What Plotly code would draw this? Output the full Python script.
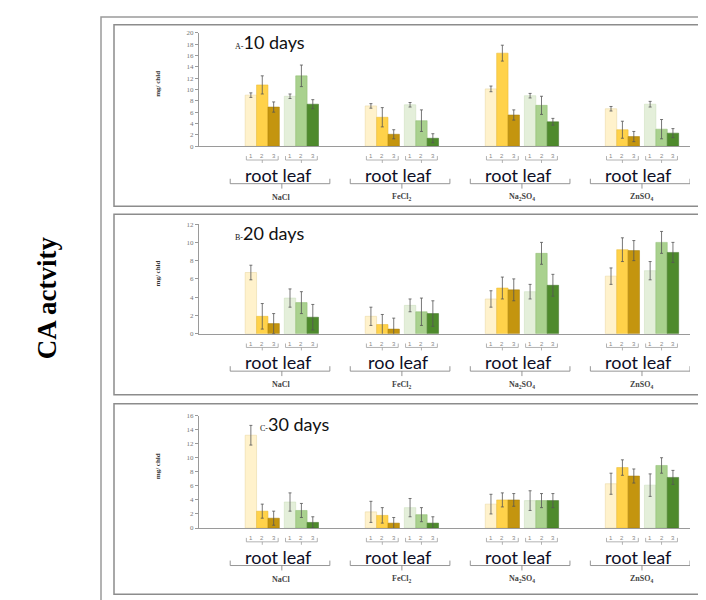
import plotly.graph_objects as go

# ---------------- data ----------------
categories = ["NaCl", "FeCl2", "Na2SO4", "ZnSO4"]
category_labels = ["NaCl", "FeCl<sub>2</sub>", "Na<sub>2</sub>SO<sub>4</sub>", "ZnSO<sub>4</sub>"]
series_names = ["root 1", "root 2", "root 3", "leaf 1", "leaf 2", "leaf 3"]
bar_numbers = ["1", "2", "3", "1", "2", "3"]
panel_titles = ["A-", "B-", "C-"]
panel_days = ["10 days", "20 days", "30 days"]
group_labels_a = ["root leaf", "root leaf", "root leaf", "root leaf"]
group_labels_b = ["root leaf", "roo leaf", "root leaf", "root leaf"]
group_labels_c = ["root leaf", "root leaf", "root leaf", "root leaf"]

# Panel A (10 days): six bars per salt [root1, root2, root3, leaf1, leaf2, leaf3]
a_nacl = [9.0, 10.8, 6.9, 8.8, 12.4, 7.4]
a_fecl2 = [7.1, 5.1, 2.1, 7.3, 4.5, 1.4]
a_na2so4 = [10.1, 16.4, 5.5, 8.9, 7.2, 4.3]
a_znso4 = [6.6, 2.9, 1.7, 7.4, 3.0, 2.3]
a_nacl_err = [0.4, 1.6, 0.9, 0.4, 1.9, 0.8]
a_fecl2_err = [0.4, 1.7, 0.8, 0.4, 1.9, 0.8]
a_na2so4_err = [0.5, 1.4, 0.9, 0.4, 1.6, 0.6]
a_znso4_err = [0.4, 1.5, 0.9, 0.5, 1.7, 0.8]

# Panel B (20 days)
b_nacl = [6.7, 1.9, 1.1, 3.9, 3.4, 1.8]
b_fecl2 = [1.9, 1.0, 0.5, 3.1, 2.4, 2.2]
b_na2so4 = [3.8, 5.0, 4.8, 4.6, 8.8, 5.3]
b_znso4 = [6.3, 9.2, 9.1, 6.9, 10.0, 8.9]
b_nacl_err = [0.8, 1.4, 1.1, 1.0, 1.2, 1.4]
b_fecl2_err = [1.0, 1.1, 1.2, 0.7, 1.5, 1.4]
b_na2so4_err = [0.9, 1.2, 1.2, 0.8, 1.2, 1.2]
b_znso4_err = [0.9, 1.3, 1.1, 1.0, 1.2, 1.1]

# Panel C (30 days)
c_nacl = [13.2, 2.4, 1.4, 3.7, 2.5, 0.8]
c_fecl2 = [2.3, 1.8, 0.7, 2.9, 1.9, 0.7]
c_na2so4 = [3.4, 4.0, 4.0, 3.9, 3.9, 3.9]
c_znso4 = [6.3, 8.6, 7.4, 6.1, 8.9, 7.2]
c_nacl_err = [1.4, 1.0, 1.0, 1.3, 1.0, 0.8]
c_fecl2_err = [1.5, 1.1, 0.8, 1.3, 1.0, 0.9]
c_na2so4_err = [1.4, 1.0, 0.9, 1.4, 1.0, 1.0]
c_znso4_err = [1.5, 1.1, 1.0, 1.6, 1.1, 1.0]

y_max = [20, 12, 16]
y_step = [2, 2, 2]

# ---------------- styling ----------------
colors = ["#FFF2CC", "#FFD24A", "#C4950F", "#E4EFDA", "#A9D18E", "#4E8A2C"]
outlines = ["#E6D49A", "#E8B830", "#A97F08", "#C8DCB8", "#8DBB6E", "#3E7222"]
W, H = 706, 600
BAR_W = 0.095
GAP = 0.041
offsets = [-(3 * BAR_W + GAP / 2) + k * BAR_W for k in range(3)] + \
          [GAP / 2 + k * BAR_W for k in range(3)]

panels = [
    dict(vals=[a_nacl, a_fecl2, a_na2so4, a_znso4],
         errs=[a_nacl_err, a_fecl2_err, a_na2so4_err, a_znso4_err],
         groups=group_labels_a, top=21, base=136, box=(13, 197), title_x=225),
    dict(vals=[b_nacl, b_fecl2, b_na2so4, b_znso4],
         errs=[b_nacl_err, b_fecl2_err, b_na2so4_err, b_znso4_err],
         groups=group_labels_b, top=215, base=326, box=(205, 388), title_x=225),
    dict(vals=[c_nacl, c_fecl2, c_na2so4, c_znso4],
         errs=[c_nacl_err, c_fecl2_err, c_na2so4_err, c_znso4_err],
         groups=group_labels_c, top=409, base=523, box=(397, 590), title_x=250),
]

fig = go.Figure()
shapes = []
annotations = []
line_col = "#9a9a9a"


def ypx(py):
    return 1 - py / H


for p_i, p in enumerate(panels):
    sfx = "" if p_i == 0 else str(p_i + 1)
    xr, yr = "x" + sfx, "y" + sfx
    base = p["base"]
    for s in range(6):
        fig.add_trace(go.Bar(
            x=categories,
            y=[p["vals"][c][s] for c in range(4)],
            error_y=dict(type="data", array=[p["errs"][c][s] for c in range(4)],
                         color="#555555", thickness=0.8, width=1.5),
            width=BAR_W, offset=offsets[s],
            marker=dict(color=colors[s], line=dict(color=outlines[s], width=0.5)),
            name=series_names[s], showlegend=False,
            xaxis=xr, yaxis=yr,
        ))
    fig.update_layout(**{
        ("xaxis" + sfx): dict(domain=[191 / W, 682 / W], range=[-0.69, 3.40],
                              showticklabels=False, ticks="", showgrid=False,
                              showline=True, linecolor=line_col, linewidth=1,
                              zeroline=False, anchor=yr, fixedrange=True),
        ("yaxis" + sfx): dict(domain=[ypx(base), ypx(p["top"])],
                              range=[0, y_max[p_i]], dtick=y_step[p_i],
                              showgrid=False, zeroline=False, showline=True,
                              linecolor=line_col, linewidth=1, ticks="outside",
                              ticklen=3, tickcolor=line_col,
                              tickfont=dict(family="Liberation Serif", size=7, color="#777"),
                              anchor=xr, fixedrange=True),
    })
    # panel box
    shapes.append(dict(type="rect", xref="paper", yref="paper",
                       x0=106 / W, x1=697 / W, y0=ypx(p["box"][1]), y1=ypx(p["box"][0]),
                       line=dict(color="#8c8c8c", width=1.5)))
    # panel title
    annotations.append(dict(
        xref="paper", yref="paper", x=p["title_x"] / W, y=ypx(p["top"] + 9),
        xanchor="left", yanchor="middle", showarrow=False,
        text=("<span style='font-family:Liberation Serif;font-size:8px'>" + panel_titles[p_i]
              + "</span>" + panel_days[p_i]),
        font=dict(family="Lato", size=18, color="#111")))
    # y title
    annotations.append(dict(
        xref="paper", yref=yr + " domain", x=144 / W, y=0.55, textangle=-90,
        showarrow=False, text="<b>mg/ chld</b>",
        font=dict(family="Liberation Serif", size=7, color="#333")))
    for c in range(4):
        # bar numbers
        for s in range(6):
            annotations.append(dict(
                xref=xr, yref="paper", x=c + offsets[s] + BAR_W / 2, y=ypx(base + 10),
                yanchor="middle", showarrow=False, text=bar_numbers[s],
                font=dict(family="Liberation Sans", size=6, color="#888")))
        # small braces under each triplet
        for t in range(2):
            xl = c + offsets[3 * t] + 0.01
            xrgt = c + offsets[3 * t + 2] + BAR_W - 0.01
            xm = (xl + xrgt) / 2
            for (xa, xb, ya, yb) in [(xl, xrgt, 14, 14), (xl, xl, 14, 10),
                                     (xrgt, xrgt, 14, 10), (xm, xm, 14, 17)]:
                shapes.append(dict(type="line", xref=xr, yref="paper",
                                   x0=xa, x1=xb, y0=ypx(base + ya), y1=ypx(base + yb),
                                   line=dict(color="#a0a0a0", width=0.8)))
        # root leaf text
        annotations.append(dict(
            xref=xr, yref="paper", x=c - 0.03, y=ypx(base + 29), yanchor="middle",
            showarrow=False, text=p["groups"][c],
            font=dict(family="Lato", size=18, color="#0e0e26")))
        # big bracket
        gl, gr = c - 0.43, c + 0.40
        for (xa, xb, ya, yb) in [(gl, gr, 38, 38), (gl, gl, 38, 33),
                                 (gr, gr, 38, 33), (c, c, 38, 43)]:
            shapes.append(dict(type="line", xref=xr, yref="paper",
                               x0=xa, x1=xb, y0=ypx(base + ya), y1=ypx(base + yb),
                               line=dict(color="#8a8a8a", width=0.9)))
        # salt name
        annotations.append(dict(
            xref=xr, yref="paper", x=c, y=ypx(base + 52), yanchor="middle",
            showarrow=False, text="<b>" + category_labels[c] + "</b>",
            font=dict(family="Liberation Serif", size=8, color="#444")))

# outer border
shapes.append(dict(type="rect", xref="paper", yref="paper",
                   x0=93 / W, x1=703 / W, y0=ypx(597), y1=ypx(5),
                   line=dict(color="#9a9a9a", width=1.5)))
# global y title
annotations.append(dict(xref="paper", yref="paper", x=22 / W, y=ypx(290),
                        textangle=-90, showarrow=False, text="<b>CA actvity</b>",
                        font=dict(family="Liberation Serif", size=27, color="#000")))

fig.update_layout(width=W, height=H, margin=dict(l=0, r=0, t=0, b=0),
                  paper_bgcolor="white", plot_bgcolor="white",
                  barmode="overlay", shapes=shapes, annotations=annotations,
                  showlegend=False)
fig.write_html("out.html")
